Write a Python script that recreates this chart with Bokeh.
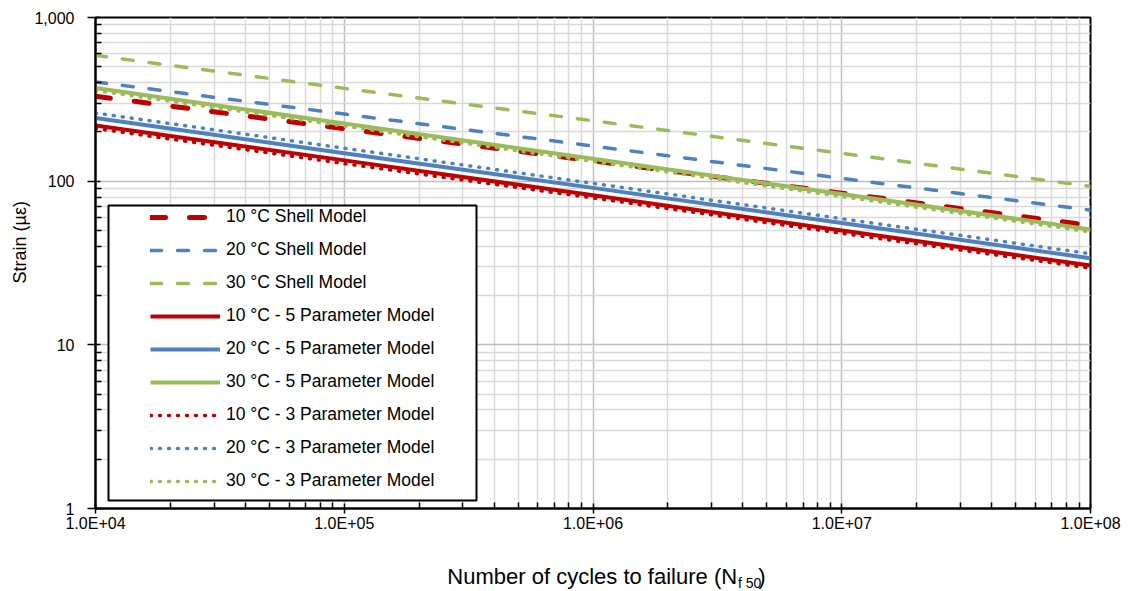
from bokeh.plotting import figure
from bokeh.layouts import column
from bokeh.models import (FixedTicker, Legend, LegendItem, BoxAnnotation, Title,
                          Range1d)
from bokeh.core.properties import value
from bokeh.embed import file_html
from bokeh.resources import INLINE

# Fatigue life (cycles) and tensile strain (microstrain) at each decade
cycles = [1e4, 1e5, 1e6, 1e7, 1e8]

shell_10 = [330, 209, 133, 84.5, 53.7]
shell_20 = [404, 257, 164, 104, 66.5]
shell_30 = [587, 369, 234, 148, 93]

five_param_10 = [219, 134, 82, 50, 30.5]
five_param_20 = [243, 148, 91, 55.5, 33.8]
five_param_30 = [371, 225, 137, 83.5, 50.7]

three_param_10 = [210, 128, 79, 48, 29.4]
three_param_20 = [261, 159, 97, 59, 36]
three_param_30 = [358, 217, 132, 80.5, 49]

series_names = [
    "10 °C Shell Model", "20 °C Shell Model", "30 °C Shell Model",
    "10 °C - 5 Parameter Model", "20 °C - 5 Parameter Model", "30 °C - 5 Parameter Model",
    "10 °C - 3 Parameter Model", "20 °C - 3 Parameter Model", "30 °C - 3 Parameter Model",
]

x_tick_values = [10000, 100000, 1000000, 10000000, 100000000]
x_tick_labels = ["1.0E+04", "1.0E+05", "1.0E+06", "1.0E+07", "1.0E+08"]
y_tick_values = [1, 10, 100, 1000]
y_tick_labels = ["1", "10", "100", "1,000"]

x_title_main = "Number of cycles to failure (N"
x_title_sub = "f 50"
x_title_close = ")"
y_title = "Strain (µε)"

RED = "#C00000"
BLUE = "#4F81BD"
GREEN = "#9BBB59"
FONT = "Liberation Sans"

heavy_dash = dict(line_width=5, line_dash="15 24", line_cap="round")
dash = dict(line_width=3.5, line_dash="11 16", line_cap="round")
solid = dict(line_width=4)
dots = dict(line_width=3.5, line_dash="1 8", line_cap="round")

series = [
    (shell_10, RED, heavy_dash),
    (shell_20, BLUE, dash),
    (shell_30, GREEN, dash),
    (five_param_10, RED, solid),
    (five_param_20, BLUE, solid),
    (five_param_30, GREEN, solid),
    (three_param_10, RED, dots),
    (three_param_20, BLUE, dots),
    (three_param_30, GREEN, dots),
]

p = figure(
    width=1129, height=548,
    x_axis_type="log", y_axis_type="log",
    x_range=(1e4, 1e8), y_range=(1, 1000),
    output_backend="svg", toolbar_location=None,
    min_border_left=95, min_border_right=39,
    min_border_top=17, min_border_bottom=40,
    background_fill_color="white", border_fill_color="white",
)

# log-decade tick layout
x_minor = [m * 10 ** e for e in range(4, 8) for m in range(2, 10)]
y_minor = [m * 10 ** e for e in range(0, 3) for m in range(2, 10)]
x_ticker = FixedTicker(ticks=x_tick_values, minor_ticks=x_minor)
y_ticker = FixedTicker(ticks=y_tick_values, minor_ticks=y_minor)
p.xaxis.ticker = x_ticker
p.yaxis.ticker = y_ticker
p.xgrid.ticker = x_ticker
p.ygrid.ticker = y_ticker
p.xaxis.major_label_overrides = dict(zip(x_tick_values, x_tick_labels))
p.yaxis.major_label_overrides = dict(zip(y_tick_values, y_tick_labels))

for grid in (p.xgrid, p.ygrid):
    grid.grid_line_color = "#bfbfbf"
    grid.grid_line_width = 1.5
    grid.minor_grid_line_color = "#d9d9d9"
    grid.minor_grid_line_width = 1.5

for ax in (p.xaxis, p.yaxis):
    ax.axis_line_color = "black"
    ax.axis_line_width = 2
    ax.major_tick_line_color = "black"
    ax.major_tick_line_width = 1.5
    ax.minor_tick_line_color = "black"
    ax.minor_tick_line_width = 1.5
    ax.major_tick_in = 5
    ax.minor_tick_in = 6
    ax.minor_tick_out = 0
    ax.major_label_text_font = FONT
    ax.major_label_text_font_size = "16px"
    ax.major_label_text_color = "black"

p.xaxis.major_tick_out = 5
p.xaxis.major_label_standoff = 1
p.yaxis.major_tick_out = 8
p.yaxis.major_label_standoff = 13

p.outline_line_color = "black"
p.outline_line_width = 2

renderers = []
for values, color, style in series:
    r = p.line(cycles, values, line_color=color, **style)
    renderers.append(r)

# legend frame
p.add_layout(BoxAnnotation(
    left=13, right=381, bottom=8, top=303,
    left_units="screen", right_units="screen",
    bottom_units="screen", top_units="screen",
    fill_color="white", fill_alpha=1.0,
    line_color="black", line_alpha=1.0, line_width=2,
))

legend = Legend(
    items=[LegendItem(label=name, renderers=[r]) for name, r in zip(series_names, renderers)],
    location=(47, 9),
    padding=8, margin=0, spacing=12,
    glyph_width=70, glyph_height=20, label_height=20,
    label_standoff=6,
    label_text_font=FONT, label_text_font_size="17.5px", label_text_color="black",
    background_fill_alpha=0, border_line_alpha=0,
)
p.add_layout(legend)

# vertical axis title, placed from the bottom of the frame
p.add_layout(Title(
    text=y_title, align="left", offset=225, standoff=4,
    text_font=FONT, text_font_size="18px", text_font_style="normal",
    text_color="black",
), "left")

# horizontal axis title strip with subscript
t = figure(
    width=1129, height=43,
    x_range=Range1d(0, 1129), y_range=Range1d(43, 0),
    output_backend="svg", toolbar_location=None,
    x_axis_location=None, y_axis_location=None,
    min_border=0, outline_line_color=None,
    background_fill_color="white", border_fill_color="white",
)
t.grid.visible = False
t.text(x=[728], y=[28], text=[x_title_main], text_align="right",
       text_baseline="alphabetic", text_font=value(FONT),
       text_font_size="22px", text_color="black")
t.text(x=[729], y=[34], text=[x_title_sub], text_align="left",
       text_baseline="alphabetic", text_font=value(FONT),
       text_font_size="14px", text_color="black")
t.text(x=[752], y=[28], text=[x_title_close], text_align="left",
       text_baseline="alphabetic", text_font=value(FONT),
       text_font_size="22px", text_color="black")

layout = column(p, t, spacing=0)

open("out.html", "w").write(file_html(layout, INLINE))
